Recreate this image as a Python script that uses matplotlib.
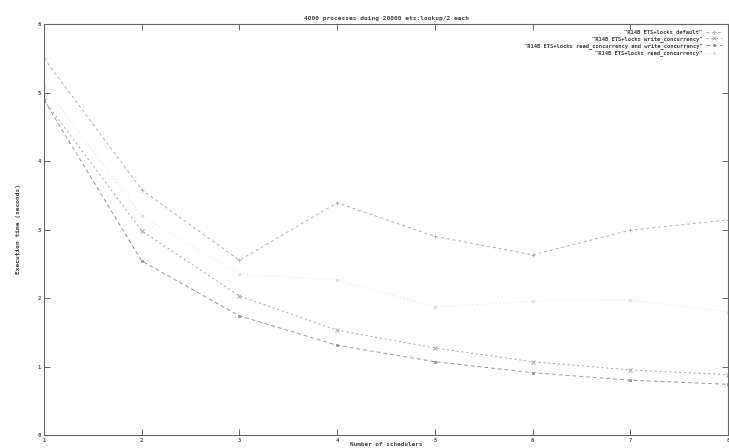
import matplotlib
matplotlib.use("Agg")
import matplotlib.pyplot as plt

schedulers = [1, 2, 3, 4, 5, 6, 7, 8]

default_times = [5.50, 3.58, 2.55, 3.39, 2.90, 2.63, 2.99, 3.14]
write_conc_times = [4.89, 2.98, 2.03, 1.53, 1.27, 1.07, 0.95, 0.88]
read_write_conc_times = [4.89, 2.54, 1.74, 1.31, 1.07, 0.91, 0.80, 0.74]
read_conc_times = [5.10, 3.20, 2.35, 2.26, 1.87, 1.95, 1.97, 1.80]

labels = [
    '"R14B ETS+locks default"',
    '"R14B ETS+locks write_concurrency"',
    '"R14B ETS+locks read_concurrency and write_concurrency"',
    '"R14B ETS+locks read_concurrency"',
]

y_ticks = [0, 1, 2, 3, 4, 5, 6]
x_ticks = schedulers

W, H = 729, 448
fig = plt.figure(figsize=(W / 100, H / 100), dpi=100)
ax_h = 411
ax = fig.add_axes([44 / W, (H - 435) / H, 684 / W, ax_h / H])

font = dict(family="DejaVu Sans Mono", fontweight="bold")

styles = [
    dict(color="#b4b4b4", ls=(0, (3, 3)), marker="+", ms=3.5),
    dict(color="#a8a8a8", ls=(0, (2, 3)), marker="x", ms=2.5),
    dict(color="#9c9c9c", ls=(0, (4, 3)), marker="s", ms=2),
    dict(color="#e2e2e2", ls=(0, (1, 3)), marker="o", ms=1.8),
]
series = [default_times, write_conc_times, read_write_conc_times, read_conc_times]

handles = []
for vals, lab, st in zip(series, labels, styles):
    h, = ax.plot(schedulers, vals, lw=0.7, mew=0.7, label=lab, **st)
    handles.append(h)

ax.set_xlim(1, 8)
ax.set_ylim(0, 6)
ax.set_xticks(x_ticks)
ax.set_yticks(y_ticks)
ax.tick_params(direction="in", length=4, width=0.6, top=True, right=True,
               labelsize=4, colors="#555555", pad=2)
for lbl in ax.get_xticklabels() + ax.get_yticklabels():
    lbl.set_fontfamily("DejaVu Sans Mono")
    lbl.set_fontweight("bold")
for sp in ax.spines.values():
    sp.set_color("#666666")
    sp.set_linewidth(0.8)

ax.set_title("4000 processes doing 20000 ets:lookup/2 each", fontsize=4.5,
             color="#444444", pad=3, **font)
ax.set_xlabel("Number of schedulers", fontsize=4.3, color="#444444", **font)
ax.xaxis.set_label_coords(0.5, -9 / ax_h)
ax.xaxis.label.set_va("center")
ax.set_ylabel("Execution time (seconds)", fontsize=4.5, color="#444444", labelpad=12, **font)

leg = ax.legend(handles=handles, loc="upper right", frameon=False, fontsize=4,
                markerfirst=False, handlelength=3, handletextpad=0.6,
                labelspacing=0.25, borderaxespad=0.6,
                prop=dict(family="DejaVu Sans Mono", weight="bold", size=4))
for t in leg.get_texts():
    t.set_color("#444444")
    t.set_ha("right")

fig.savefig("out.png", dpi=100, facecolor="white")
